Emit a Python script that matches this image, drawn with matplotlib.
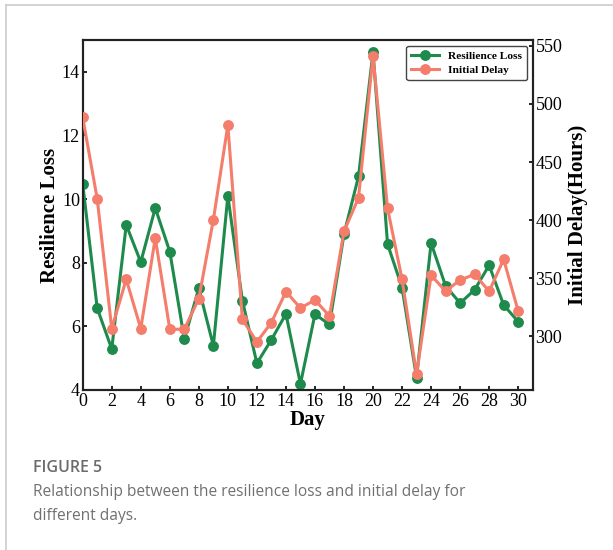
import matplotlib
matplotlib.use("Agg")
import matplotlib.pyplot as plt
from matplotlib.lines import Line2D

days = list(range(31))
resilience_loss = [10.48, 6.57, 5.29, 9.19, 8.02, 9.72, 8.35, 5.60, 7.20, 5.39,
                   10.10, 6.81, 4.84, 5.58, 6.39, 4.19, 6.38, 6.06, 8.90, 10.71,
                   14.62, 8.59, 7.22, 4.39, 8.62, 7.27, 6.73, 7.15, 7.92, 6.67, 6.15]
initial_delay = [488.4, 418.3, 306.6, 349.0, 306.6, 384.5, 306.0, 306.0, 332.4, 400.2,
                 481.9, 314.6, 295.1, 311.8, 338.4, 324.3, 331.2, 317.4, 390.2, 419.2,
                 541.4, 410.2, 349.0, 267.4, 352.4, 338.9, 348.4, 353.3, 338.7, 366.2, 321.7]
x_ticks = list(range(0, 31, 2))
left_ticks = [4, 6, 8, 10, 12, 14]
right_ticks = [300, 350, 400, 450, 500, 550]

green = "#1e8a4c"
salmon = "#f47d6b"
serif = ["Liberation Serif", "DejaVu Serif"]

fig = plt.figure(figsize=(6.13, 5.5), dpi=100)
ax = fig.add_axes([82.7/613, 1-390/550, (532.7-82.7)/613, 350/550])
ax2 = ax.twinx()

ax.plot(days, resilience_loss, color=green, lw=2.2, marker="o", ms=6.8, zorder=3)
ax2.plot(days, initial_delay, color=salmon, lw=2.2, marker="o", ms=6.8, zorder=3)

ax.set_xlim(0, 31)
ax.set_ylim(4, 15)
ax2.set_ylim(253.7, 555.1)
ax.set_xticks(x_ticks)
ax.set_yticks(left_ticks)
ax2.set_yticks(right_ticks)

for a in (ax, ax2):
    a.tick_params(direction="in", length=3, width=1.2, labelsize=13)
    for lab in a.get_xticklabels() + a.get_yticklabels():
        lab.set_fontfamily(serif)
    for s in a.spines.values():
        s.set_linewidth(1.5)
        s.set_color("#222222")
ax.tick_params(axis="y", pad=2)
ax2.tick_params(axis="y", pad=2)
ax.tick_params(axis="x", pad=2)

ax.set_xlabel("Day", fontsize=15, fontweight="bold", family=serif, labelpad=0)
ax.set_ylabel("Resilience Loss", fontsize=15, fontweight="bold", family=serif, labelpad=1)
ax2.set_ylabel("Initial Delay(Hours)", fontsize=15, fontweight="bold", family=serif, labelpad=4)

handles = [Line2D([], [], color=green, lw=2.2, marker="o", ms=6.8),
           Line2D([], [], color=salmon, lw=2.2, marker="o", ms=6.8)]
ax2.legend(handles, ["Resilience Loss", "Initial Delay"], loc="upper right",
           prop={"family": serif, "weight": "bold", "size": 8.2},
           frameon=True, fancybox=True, edgecolor="#444444", framealpha=1,
           borderaxespad=0.5, handlelength=2.4, borderpad=0.45, labelspacing=0.35)

# page borders
fig.add_artist(Line2D([6/613, 6/613], [0, 1-5/550], color="#cccccc", lw=1.2, transform=fig.transFigure))
fig.add_artist(Line2D([6/613, 1], [1-5/550, 1-5/550], color="#cccccc", lw=1.2, transform=fig.transFigure))

cap = ["Open Sans", "DejaVu Sans"]
fig.text(33/613, 1-468/550, "FIGURE 5", fontsize=11.5, color="#6b6b6b", family=cap,
         fontweight="semibold", va="center")
fig.text(33/613, 1-491.5/550, "Relationship between the resilience loss and initial delay for",
         fontsize=11.2, color="#707070", family=cap, va="center")
fig.text(33/613, 1-516.5/550, "different days.",
         fontsize=11.2, color="#707070", family=cap, va="center")

fig.savefig("out.png", dpi=100)
